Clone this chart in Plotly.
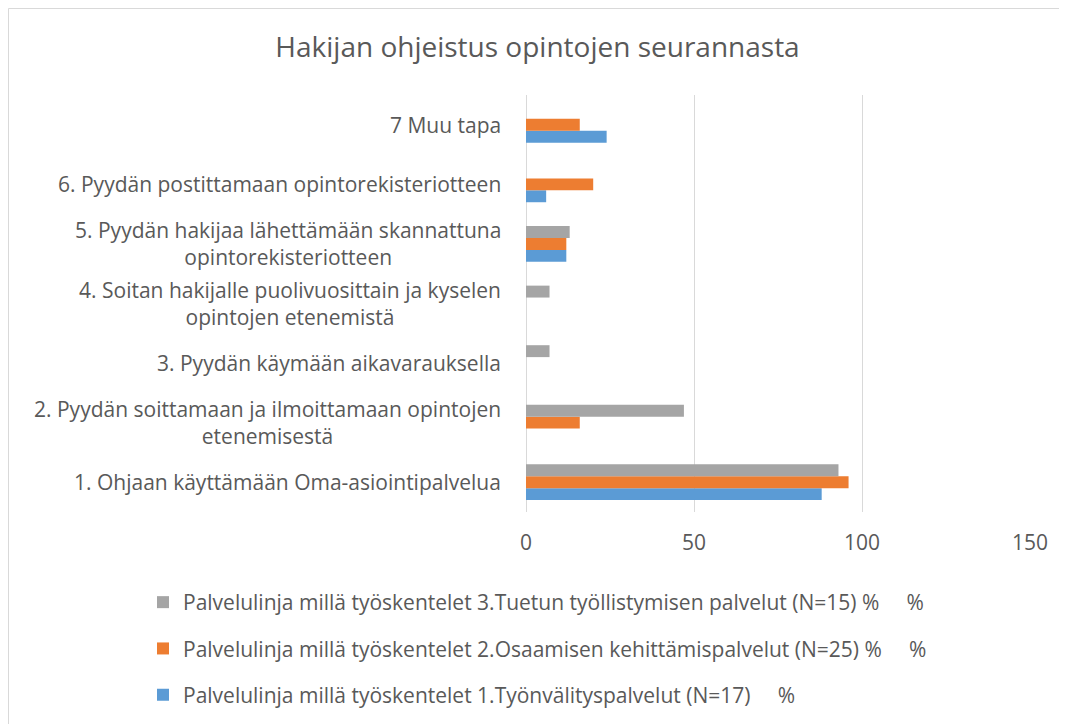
import plotly.graph_objects as go

categories = [
    "1. Ohjaan käyttämään Oma-asiointipalvelua",
    "2. Pyydän soittamaan ja ilmoittamaan opintojen<br>etenemisestä",
    "3. Pyydän käymään aikavarauksella",
    "4. Soitan hakijalle puolivuosittain ja kyselen<br>opintojen etenemistä",
    "5. Pyydän hakijaa lähettämään skannattuna<br>opintorekisteriotteen",
    "6. Pyydän postittamaan opintorekisteriotteen",
    "7 Muu tapa",
]
series_names = [
    "Palvelulinja millä työskentelet 1.Työnvälityspalvelut (N=17)\u00a0\u00a0\u00a0\u00a0 %",
    "Palvelulinja millä työskentelet 2.Osaamisen kehittämispalvelut (N=25) %\u00a0\u00a0\u00a0\u00a0 %",
    "Palvelulinja millä työskentelet 3.Tuetun työllistymisen palvelut (N=15) %\u00a0\u00a0\u00a0\u00a0 %",
]
blue_vals = [88, 0, 0, 0, 12, 6, 24]
orange_vals = [96, 16, 0, 0, 12, 20, 16]
gray_vals = [93, 47, 7, 7, 13, 0, 0]
tick_vals = [0, 50, 100, 150]

colors = ["#5b9bd5", "#ed7d31", "#a5a5a5"]
font_family = "'Open Sans', sans-serif"
text_color = "#595959"

W, H = 1059, 716
L, R, T, B = 518, 37, 87, 212
PW, PH = W - L - R, H - T - B

fig = go.Figure()
for name, vals, col, i in zip(series_names, [blue_vals, orange_vals, gray_vals], colors, range(3)):
    fig.add_trace(go.Bar(
        y=list(range(len(categories))), x=vals, name=name, orientation="h",
        marker=dict(color=col, line=dict(width=0)),
        legendgroup=f"g{i}", legendrank=3 - i,
    ))

for i, c in enumerate(categories):
    fig.add_annotation(
        x=-23 / PW, xref="paper", y=i, yref="y", text=c, showarrow=False,
        xanchor="right", yanchor="middle", align="center",
        font=dict(size=21, color=text_color, family=font_family),
    )

fig.update_layout(
    width=W, height=H,
    paper_bgcolor="white", plot_bgcolor="white",
    margin=dict(l=L, r=R, t=T, b=B, autoexpand=False),
    barmode="group", bargap=0.4, bargroupgap=0,
    title=dict(text="Hakijan ohjeistus opintojen seurannasta", x=0.5, xref="container",
               xanchor="center", y=1 - 39 / H, yref="container", yanchor="middle",
               font=dict(size=28, color=text_color, family=font_family)),
    xaxis=dict(range=[0, 150], tickvals=tick_vals, showgrid=True, gridcolor="#d9d9d9",
               gridwidth=1, zeroline=True, zerolinecolor="#d9d9d9", zerolinewidth=1,
               showline=False, ticks="", ticklabelstandoff=16,
               tickfont=dict(size=21, color=text_color, family=font_family)),
    yaxis=dict(range=[-0.5, 6.5], showticklabels=False, showgrid=False, zeroline=False,
               showline=False, ticks=""),
    legend=dict(orientation="v", traceorder="grouped", x=135 / W, xref="container",
                xanchor="left", y=(H - 574) / H, yref="container", yanchor="top",
                font=dict(size=21, color=text_color, family=font_family),
                tracegroupgap=16, itemwidth=30),
    showlegend=True,
)
fig.add_shape(type="rect", xref="paper", yref="paper",
              x0=(0.5 - L) / PW, x1=1 + (R + 5) / PW,
              y0=-(B + 5) / PH, y1=1 + (T - 0.5) / PH,
              line=dict(color="#d9d9d9", width=1))

fig.write_html("out.html")
